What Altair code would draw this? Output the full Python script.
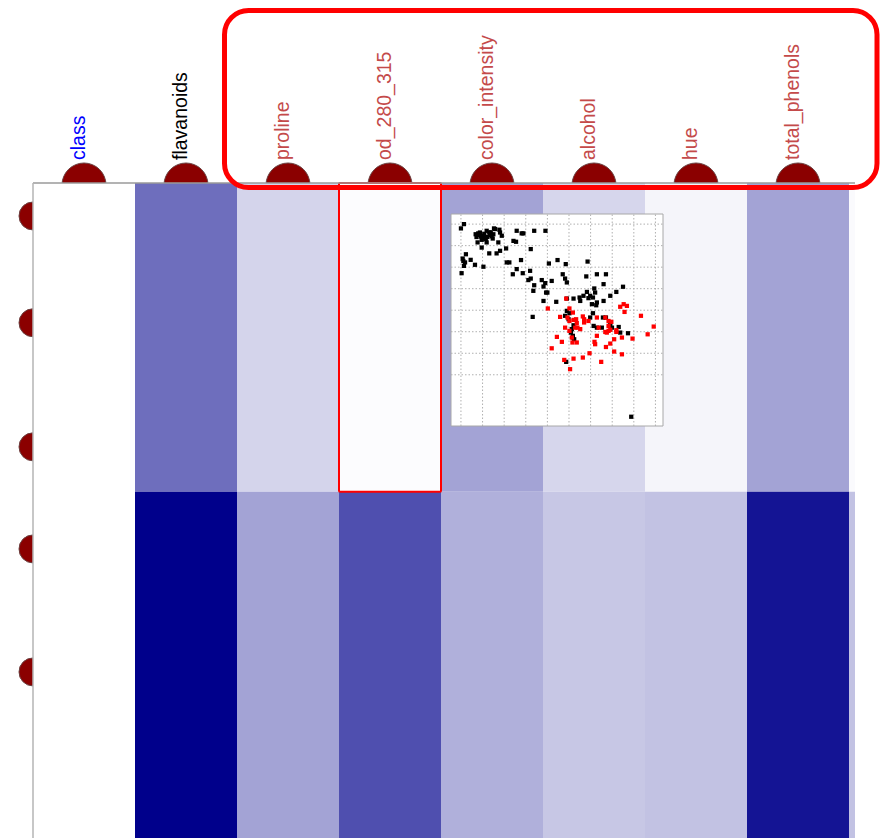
import altair as alt
import pandas as pd

# ---------------- data ----------------
columns = ["class", "flavanoids", "proline", "od_280_315", "color_intensity",
           "alcohol", "hue", "total_phenols", "(next)"]
label_columns = columns[:8]
label_roles = ["target", "selected", "candidate", "candidate", "candidate",
               "candidate", "candidate", "candidate"]
classes = ["1", "2"]
class_counts = [59, 71]
# colour intensity per column (0 = white .. 1 = dark blue)
intensity_class1 = [0.0, 0.57, 0.17, 0.01, 0.36, 0.16, 0.04, 0.36, 0.02]
intensity_class2 = [0.0, 1.0, 0.36, 0.69, 0.31, 0.22, 0.24, 0.92, 0.24]
highlight_column = "od_280_315"
highlight_class = "1"
row_markers = [6.3, 26.7, 50.4, 69.9, 93.4]
visible_samples = 125.5

# inset scatter (grid units)
black_x = [1.14, 1.00, 1.68, 1.80, 1.88, 2.00, 2.04, 1.96, 2.11, 2.19, 2.31, 2.34, 2.42, 2.50, 2.58,
           2.47, 2.53, 2.78, 2.81, 2.89, 1.77, 1.96, 2.19, 2.73, 2.31, 2.65, 2.81, 3.09, 4.23, 3.58,
           3.81, 3.89, 4.39, 4.91, 3.43, 3.55, 1.08, 1.23, 1.11, 1.19, 1.45, 1.65, 1.14, 2.04, 1.03,
           3.12, 3.24, 3.78, 3.58, 3.40, 3.86, 4.20, 4.12, 4.23, 4.39, 4.35, 4.74, 4.90, 4.82, 5.20,
           5.07, 5.47, 5.85, 5.71, 5.82, 5.90, 4.94, 5.00, 4.82, 5.41, 5.90, 6.21, 6.49, 6.52, 6.67,
           6.83, 6.90, 6.98, 7.11, 7.17, 7.21, 7.29, 7.60, 7.29, 7.71, 6.80, 6.86, 7.60, 7.91, 8.19,
           8.50, 7.26, 7.06, 5.90, 6.02, 5.82, 5.98, 4.32, 6.21, 6.13, 6.18, 6.18, 6.09, 6.24, 6.98,
           7.11, 7.14, 7.29, 7.52, 7.57, 7.71, 7.91, 7.99, 8.30, 8.37, 8.73, 5.87, 8.88,
           1.72, 1.85, 2.08, 2.22, 2.38, 1.92, 2.15]
black_y = [10.00, 9.80, 9.53, 9.57, 9.61, 9.46, 9.33, 9.27, 9.38, 9.69, 9.61, 9.49, 9.43, 9.53, 9.77,
           9.33, 9.80, 9.74, 9.61, 9.46, 9.15, 8.91, 9.15, 9.15, 8.64, 8.64, 8.76, 8.87, 8.84, 9.69,
           9.57, 9.57, 9.69, 9.69, 9.22, 9.18, 8.40, 8.60, 8.29, 8.22, 8.34, 8.11, 8.06, 8.02, 7.72,
           8.22, 8.22, 8.33, 7.91, 7.67, 7.72, 7.83, 7.40, 7.47, 7.16, 6.90, 7.40, 7.26, 7.10, 7.36,
           8.17, 8.33, 8.14, 7.67, 7.47, 7.29, 6.82, 6.82, 6.43, 6.39, 6.54, 6.54, 6.59, 6.43, 6.67,
           6.85, 6.56, 6.67, 6.59, 7.01, 6.82, 6.36, 6.43, 7.67, 7.67, 7.57, 8.26, 7.21, 6.67, 6.85,
           7.09, 6.23, 6.28, 5.97, 5.86, 5.74, 5.58, 5.69, 5.30, 5.12, 4.81, 4.73, 4.96, 4.65, 5.66,
           5.86, 5.27, 5.19, 5.19, 5.66, 5.66, 5.35, 5.19, 5.22, 4.96, 4.93, 3.60, 1.05,
           9.40, 9.50, 9.55, 9.40, 9.62, 9.42, 9.30]
red_x = [5.87, 5.02, 5.59, 5.93, 6.02, 6.18, 6.21, 6.33, 6.36, 6.29, 5.82, 6.02, 6.64, 6.70, 6.70,
         6.90, 7.29, 7.37, 7.68, 7.83, 7.96, 7.75, 7.68, 7.83, 7.91, 8.19, 8.37, 8.53, 8.68, 8.57,
         9.33, 9.92, 9.64, 8.94, 8.45, 8.09, 7.91, 7.71, 7.18, 7.21, 7.29, 6.95, 6.64, 6.21, 5.78,
         6.05, 7.49, 8.09, 8.45, 5.44, 5.67, 5.20, 6.16, 6.36, 6.13, 6.39, 6.52, 6.02, 8.19, 7.83]
red_y = [6.54, 6.08, 5.69, 5.66, 6.08, 5.89, 5.55, 5.58, 5.40, 5.19, 5.19, 5.04, 5.71, 5.58, 5.43,
         5.50, 5.66, 5.19, 5.66, 5.50, 5.46, 4.96, 4.99, 5.04, 5.09, 5.07, 6.16, 6.28, 6.20, 5.92,
         5.74, 5.24, 4.88, 4.68, 4.73, 4.65, 4.45, 4.29, 4.53, 4.42, 4.81, 4.00, 3.80, 3.75, 3.69,
         3.26, 3.60, 4.08, 3.95, 4.76, 4.53, 4.23, 4.50, 4.50, 4.73, 5.19, 5.12, 5.50, 4.99, 5.27]
inset_x_domain = [0.54, 10.35]
inset_y_domain = [0.62, 10.47]
grid_x = [1, 2, 3, 4, 5, 6, 7, 8, 9, 10]
grid_y = [3, 4, 5, 6, 7, 8, 9, 10]

# ---------------- tables ----------------
rows = []
start = 0
for cls, cnt, vals in zip(classes, class_counts, [intensity_class1, intensity_class2]):
    for col, v in zip(columns, vals):
        rows.append({"column": col, "cls": cls, "start": start, "end": start + cnt, "value": v})
    start += cnt
heat = pd.DataFrame(rows)
labels = pd.DataFrame({"column": label_columns, "role": label_roles})
markers = pd.DataFrame({"sample": row_markers})
points = pd.DataFrame({
    "x": black_x + red_x,
    "y": black_y + red_y,
    "group": ["black"] * len(black_x) + ["red"] * len(red_x),
})
gx = pd.DataFrame({"g": grid_x})
gy = pd.DataFrame({"g": grid_y})
one = pd.DataFrame({"a": [0]})

# ---------------- scales ----------------
xs = alt.Scale(domain=columns, range=[0, 918], paddingInner=0, paddingOuter=0)
ys = alt.Scale(domain=[0, visible_samples], reverse=True, nice=False, zero=False)
fill_scale = alt.Scale(domain=[0, 1], range=["#ffffff", "#00008b"], interpolate="rgb")
ixs = alt.Scale(domain=inset_x_domain, range=[418, 630], nice=False, zero=False)
iys = alt.Scale(domain=inset_y_domain, range=[243, 31], nice=False, zero=False)

dome = "#8b0000"

top_circles = alt.Chart(labels).mark_circle(
    size=1936, opacity=1, color=dome, stroke="#6a4040", strokeWidth=1, yOffset=2
).encode(
    x=alt.X("column:N", scale=xs, axis=None),
    y=alt.YDatum(0, scale=ys, axis=None),
)

left_circles = alt.Chart(markers).mark_circle(
    size=784, opacity=1, color=dome, stroke="#6a4040", strokeWidth=1
).encode(
    x=alt.XDatum("class", bandPosition=0),
    y=alt.Y("sample:Q", scale=ys),
)

cells = alt.Chart(heat).mark_rect(clip=True).encode(
    x=alt.X("column:N", scale=xs),
    y=alt.Y("start:Q", scale=ys),
    y2="end:Q",
    fill=alt.Fill("value:Q", scale=fill_scale, legend=None),
)

highlight = alt.Chart(heat).transform_filter(
    (alt.datum.column == highlight_column) & (alt.datum.cls == highlight_class)
).mark_rect(fillOpacity=0, stroke="#ff0000", strokeWidth=2, cornerRadius=1).encode(
    x=alt.X("column:N", scale=xs),
    y=alt.Y("start:Q", scale=ys),
    y2="end:Q",
)

top_border = alt.Chart(one).mark_rule(color="#9a9a9a", strokeWidth=1.5, x2Offset=6).encode(
    x=alt.XDatum("class", bandPosition=0),
    x2=alt.X2Datum("(next)", bandPosition=0),
    y=alt.YDatum(0),
)
left_border = alt.Chart(one).mark_rule(color="#b4b4b4", strokeWidth=1.5).encode(
    x=alt.XDatum("class", bandPosition=0),
    y=alt.YDatum(0),
    y2=alt.Y2Datum(visible_samples),
)

label_text = alt.Chart(labels).mark_text(
    angle=270, align="left", baseline="alphabetic", dx=23, dy=1,
    font="Liberation Sans, Arial, sans-serif",
    fontSize=19.5,
).encode(
    x=alt.X("column:N", scale=xs),
    y=alt.YDatum(0),
    text="column:N",
    color=alt.Color("role:N", scale=alt.Scale(domain=["target", "selected", "candidate"],
                                               range=["#0000ff", "#000000", "#c44a4a"]),
                    legend=None),
)

focus_box = alt.Chart(one).mark_rect(
    fillOpacity=0, stroke="#ff0000", strokeWidth=5, cornerRadius=24,
    xOffset=-12.5, x2Offset=28, yOffset=-172.5, y2Offset=4.5,
).encode(
    x=alt.XDatum("proline", bandPosition=0),
    x2=alt.X2Datum("total_phenols", bandPosition=1),
    y=alt.YDatum(0),
    y2=alt.Y2Datum(0),
)

main = alt.layer(top_circles, left_circles, cells, highlight, top_border, left_border,
                 label_text, focus_box)

inset_box = alt.Chart(one).mark_rect(fill="#ffffff", stroke="#a8a8a8", strokeWidth=1).encode(
    x=alt.XDatum(inset_x_domain[0], scale=ixs, axis=None),
    x2=alt.X2Datum(inset_x_domain[1]),
    y=alt.YDatum(inset_y_domain[0], scale=iys, axis=None),
    y2=alt.Y2Datum(inset_y_domain[1]),
)
vgrid = alt.Chart(gx).mark_rule(color="#b0b0b0", strokeWidth=1, strokeDash=[1.5, 2]).encode(
    x=alt.X("g:Q", scale=ixs, axis=None),
    y=alt.YDatum(inset_y_domain[0], scale=iys, axis=None),
    y2=alt.Y2Datum(inset_y_domain[1]),
)
hgrid = alt.Chart(gy).mark_rule(color="#b0b0b0", strokeWidth=1, strokeDash=[1.5, 2]).encode(
    y=alt.Y("g:Q", scale=iys, axis=None),
    x=alt.XDatum(inset_x_domain[0], scale=ixs, axis=None),
    x2=alt.X2Datum(inset_x_domain[1]),
)
pts = alt.Chart(points).mark_square(size=18, opacity=1).encode(
    x=alt.X("x:Q", scale=ixs, axis=None),
    y=alt.Y("y:Q", scale=iys, axis=None),
    color=alt.Color("group:N", scale=alt.Scale(domain=["black", "red"], range=["#000000", "#ff0000"]),
                    legend=None),
)
inset = alt.layer(inset_box, vgrid, hgrid, pts)

chart = alt.layer(main, inset).resolve_scale(
    x="independent", y="independent", color="independent", fill="independent"
).properties(
    width=822, height=657,
    padding={"left": 25, "top": 175, "right": 25, "bottom": 0},
    autosize=alt.AutoSizeParams(type="none"),
    background="#ffffff",
).configure_view(stroke=None)

chart.save("out.html", embed_options={"renderer": "svg", "actions": False})
